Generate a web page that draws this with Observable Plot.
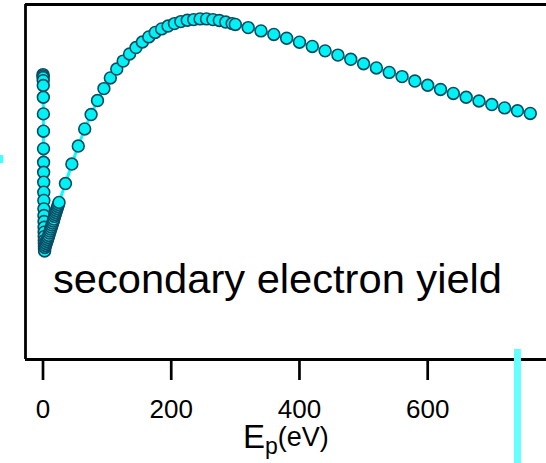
<!DOCTYPE html>
<html><head><meta charset="utf-8">
<script src="https://cdn.jsdelivr.net/npm/d3@7"></script>
<script src="https://cdn.jsdelivr.net/npm/@observablehq/plot@0.6"></script>
<style>body{margin:0;background:#fff;} svg{display:block}</style>
</head><body><div id="chart"></div>
<script>
// Primary energy (eV) and secondary electron yield (arbitrary units, no y axis shown)
const energyLow = [0,0.1,0.2,0.3,0.4,0.5,0.6,0.7,0.8,0.9,1.0,1.1,1.2,1.3,1.4,1.5,1.6,1.7,1.8,1.9,2.0,2.1,2.2,2.3,2.4,2.5];
const yieldLow  = [1.284,1.278,1.271,1.257,1.235,1.182,1.107,1.029,0.950,0.889,0.844,0.799,0.754,0.717,0.679,0.649,0.622,0.596,0.574,0.554,0.536,0.523,0.509,0.500,0.494,0.489];
const energyBand = [3,4,5,6,7,8,9,10,11,12,13,14,15,16,17,18,19,20,21,22,23,24,25];
const yieldBand  = [0.505,0.514,0.523,0.532,0.541,0.550,0.559,0.570,0.579,0.588,0.597,0.606,0.615,0.624,0.633,0.645,0.654,0.663,0.672,0.681,0.690,0.699,0.708];
const energyRise = [35,45,55,65,75,85,95,105,115,125,135,145,155,165,175,185,195,205,215,225,235,245,255,265,275,285,295,300];
const yieldRise  = [0.793,0.881,0.962,1.039,1.104,1.167,1.221,1.269,1.309,1.345,1.377,1.406,1.431,1.454,1.474,1.490,1.503,1.514,1.523,1.529,1.532,1.535,1.535,1.532,1.528,1.521,1.514,1.510];
const energyHigh = [320,340,360,380,400,420,440,460,480,500,520,540,560,580,600,620,640,660,680,700,720,740,760];
const yieldHigh  = [1.496,1.481,1.465,1.448,1.430,1.411,1.391,1.372,1.353,1.333,1.314,1.294,1.275,1.255,1.236,1.217,1.199,1.182,1.165,1.149,1.134,1.121,1.109];

const xTicks = [0, 200, 400, 600];
const xDomain = [-27.3, 785.3];
const yDomain = [0, 1.6];
const cursorEnergy = [740];
const cursorYield = [0.045, -0.47];
const sideMarkEnergy = [-66.3, -61.1];
const sideMarkYield = [0.883, 0.919];
const annotationText = "secondary electron yield";
const axisLabel = ["E", "p", "(eV)"];

const energies = [...energyLow, ...energyBand, ...energyRise, ...energyHigh];
const yields = [...yieldLow, ...yieldBand, ...yieldRise, ...yieldHigh];
const data = energies.map((E, i) => ({E, Y: yields[i]}));

const plot = Plot.plot({
  width: 546, height: 463,
  marginLeft: 25, marginRight: 0, marginTop: 4, marginBottom: 104,
  style: {fontFamily: "Liberation Sans, Arial, sans-serif", background: "#fff", overflow: "visible"},
  x: {domain: xDomain, axis: null},
  y: {domain: yDomain, axis: null},
  marks: [
    Plot.ruleY([yDomain[1]], {stroke: "#000", strokeWidth: 3}),
    Plot.ruleY([yDomain[0]], {stroke: "#000", strokeWidth: 2.8}),
    Plot.ruleX([xDomain[0]], {stroke: "#000", strokeWidth: 2.8}),
    Plot.axisX(xTicks, {anchor: "bottom", tickSize: 21, tickPadding: 19, fontSize: 26, strokeWidth: 2.7, stroke: "#000", fill: "#000", label: null}),
    Plot.line(data, {x: "E", y: "Y", stroke: "#00ffff", strokeWidth: 3}),
    Plot.dot(data, {x: "E", y: "Y", r: 5.9, fill: "#00f2f4", stroke: "#0a4c63", strokeWidth: 1.6}),
    Plot.rect([0], {x1: sideMarkEnergy[0], x2: sideMarkEnergy[1], y1: sideMarkYield[0], y2: sideMarkYield[1], fill: "#44ffff"}),
    Plot.ruleX(cursorEnergy, {y1: cursorYield[0], y2: cursorYield[1], stroke: "#66ffff", strokeWidth: 7})
  ]
});
document.getElementById("chart").appendChild(plot);

const svg = d3.select(plot);
svg.append("text")
  .attr("x", 53).attr("y", 293)
  .attr("text-anchor", "start")
  .attr("font-family", "Liberation Sans, Arial, sans-serif")
  .attr("font-size", 40)
  .attr("textLength", 449).attr("lengthAdjust", "spacingAndGlyphs")
  .attr("fill", "#000")
  .text(annotationText);

const lab = svg.append("text")
  .attr("x", 243).attr("y", 448)
  .attr("text-anchor", "start")
  .attr("font-family", "Liberation Sans, Arial, sans-serif")
  .attr("fill", "#000");
lab.append("tspan").attr("font-size", 33).text(axisLabel[0]);
lab.append("tspan").attr("font-size", 23).attr("dy", 6).text(axisLabel[1]);
lab.append("tspan").attr("font-size", 27).attr("dy", -8).text(axisLabel[2]);
</script>
</body></html>
